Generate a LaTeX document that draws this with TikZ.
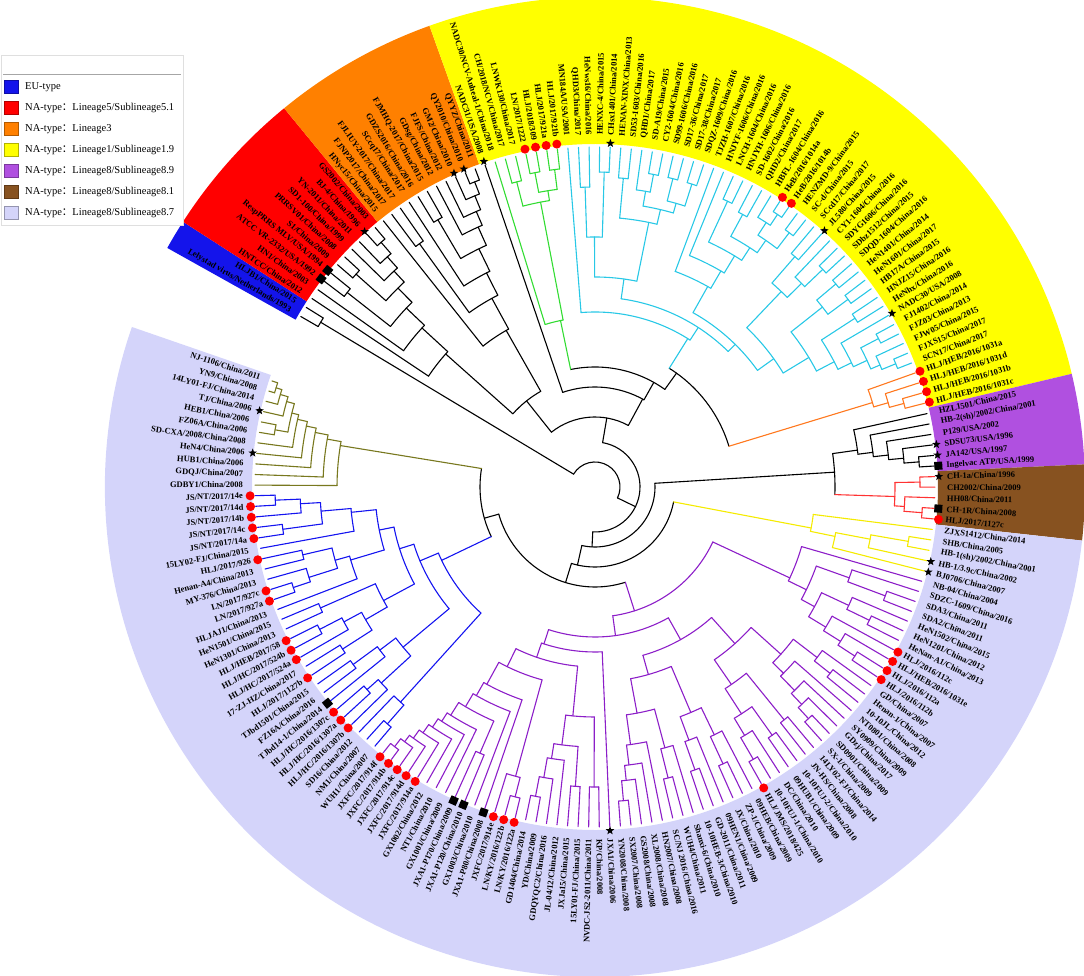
\documentclass[tikz,border=0pt]{standalone}
\usepackage{fontspec}
\setmainfont{Liberation Serif}
\newfontfamily\cjkf{Noto Sans CJK SC}
\usetikzlibrary{shapes.geometric}
\definecolor{cBlue}{RGB}{20,20,235}
\definecolor{cRed}{RGB}{255,0,0}
\definecolor{cOrange}{RGB}{255,128,0}
\definecolor{cYellow}{RGB}{255,255,0}
\definecolor{cPurple}{RGB}{176,80,224}
\definecolor{cBrown}{RGB}{135,82,32}
\definecolor{cLav}{RGB}{212,212,250}
\definecolor{lGreen}{RGB}{50,220,50}
\definecolor{lCyan}{RGB}{40,200,230}
\definecolor{lOrange}{RGB}{255,120,30}
\definecolor{lRed}{RGB}{255,50,50}
\definecolor{lYellow}{RGB}{245,235,0}
\definecolor{lPurple}{RGB}{140,30,200}
\definecolor{lBlue}{RGB}{20,20,240}
\definecolor{lOlive}{RGB}{120,120,30}
\tikzset{br/.style={line width=1.1pt,line cap=round},
 lab/.style={font=\bfseries\fontsize{8.5}{9}\selectfont,inner sep=0pt,text=black},
 dotsym/.style={circle,fill=red,inner sep=0pt,minimum size=9pt},
 starsym/.style={star,star points=5,star point ratio=2.4,fill=black,inner sep=0pt,minimum size=9pt},
 sqsym/.style={rectangle,fill=black,inner sep=0pt,minimum size=8pt},
 legtext/.style={font=\fontsize{10.5}{12}\selectfont,anchor=west,inner sep=0pt},
 legbox/.style={rectangle,inner sep=0pt,minimum width=14pt,minimum height=13pt}}
\newcommand{\nd}[6]{%
 \pgfmathsetmacro\ndA{150.8-1.785*((#1+#2)/2+0.5)}%
 \pgfmathsetmacro\ndB{150.8-1.785*((#2+1+#3)/2+0.5)}%
 \pgfmathsetmacro\ndM{150.8-1.785*((#1+#3)/2+0.5)}%
 \draw[br,#6] (\ndA:#4pt) arc[start angle=\ndA,end angle=\ndB,radius=#4pt];%
 \draw[br,#6] (\ndM:#5pt) -- (\ndM:#4pt);%
 \ifnum#1=#2\relax\draw[br,#6] (\ndA:#4pt) -- (\ndA:340pt);\fi
 \ifnum\numexpr#2+1\relax=#3\relax\draw[br,#6] (\ndB:#4pt) -- (\ndB:340pt);\fi}
\newcommand{\band}[3]{%
 \pgfmathsetmacro\bdA{150.8-1.785*#1}%
 \pgfmathsetmacro\bdB{150.8-1.785*(#2+1)}%
 \fill[#3] (\bdA:343pt) arc[start angle=\bdA,end angle=\bdB,radius=343pt] -- (\bdB:490pt) arc[start angle=\bdB,end angle=\bdA,radius=490pt] -- cycle;}
\begin{document}
\begin{tikzpicture}[x=1pt,y=1pt]
\useasboundingbox (0,0) rectangle (1084,976);
\clip (0,0) rectangle (1084,976);
\begin{scope}[shift={(595,489)}]
\band{0}{1}{cBlue}
\band{2}{11}{cRed}
\band{12}{22}{cOrange}
\band{23}{76}{cYellow}
\band{77}{82}{cPurple}
\band{83}{87}{cBrown}
\band{88}{195}{cLav}
% backbone
\nd{0}{1}{195}{25}{25}{black}
\nd{0}{0}{1}{320}{25}{black}
\nd{2}{76}{195}{45}{25}{black}
\nd{2}{22}{76}{70}{45}{black}
\nd{2}{11}{22}{110}{70}{black}
% lineage 5
\nd{2}{2}{11}{200}{110}{black}
\nd{3}{3}{11}{235}{200}{black}
\nd{4}{5}{11}{260}{235}{black}
\nd{4}{4}{5}{315}{260}{black}
\nd{6}{7}{11}{280}{260}{black}
\nd{6}{6}{7}{320}{280}{black}
\nd{8}{8}{11}{295}{280}{black}
\nd{9}{9}{11}{310}{295}{black}
\nd{10}{10}{11}{325}{310}{black}
% lineage 3
\nd{12}{12}{22}{180}{110}{black}
\nd{13}{14}{22}{215}{180}{black}
\nd{13}{13}{14}{300}{215}{black}
\nd{15}{15}{22}{240}{215}{black}
\nd{16}{17}{22}{265}{240}{black}
\nd{16}{16}{17}{310}{265}{black}
\nd{18}{18}{22}{285}{265}{black}
\nd{19}{19}{22}{300}{285}{black}
\nd{20}{20}{22}{315}{300}{black}
\nd{21}{21}{22}{328}{315}{black}
% lineage 1
\nd{23}{23}{76}{100}{70}{black}
\nd{24}{30}{76}{120}{100}{black}
\nd{24}{24}{30}{170}{120}{lGreen}
\nd{25}{26}{30}{290}{170}{lGreen}
\nd{25}{25}{26}{315}{290}{lGreen}
\nd{27}{28}{30}{300}{290}{lGreen}
\nd{27}{27}{28}{320}{300}{lGreen}
\nd{29}{29}{30}{320}{300}{lGreen}
\nd{31}{72}{76}{140}{120}{black}
\nd{73}{73}{76}{290}{140}{lOrange}
\nd{74}{74}{76}{305}{290}{lOrange}
\nd{75}{75}{76}{320}{305}{lOrange}
\nd{31}{31}{72}{175}{140}{lCyan}
\nd{32}{44}{72}{190}{175}{lCyan}
\nd{32}{35}{44}{210}{190}{lCyan}
\nd{32}{33}{35}{250}{210}{lCyan}
\nd{32}{32}{33}{300}{250}{lCyan}
\nd{34}{34}{35}{315}{250}{lCyan}
\nd{36}{37}{44}{270}{210}{lCyan}
\nd{36}{36}{37}{310}{270}{lCyan}
\nd{38}{40}{44}{285}{270}{lCyan}
\nd{38}{38}{40}{300}{285}{lCyan}
\nd{39}{39}{40}{318}{300}{lCyan}
\nd{41}{42}{44}{295}{285}{lCyan}
\nd{41}{41}{42}{318}{295}{lCyan}
\nd{43}{43}{44}{318}{295}{lCyan}
\nd{45}{55}{72}{200}{190}{lCyan}
\nd{45}{45}{55}{230}{200}{lCyan}
\nd{46}{46}{55}{250}{230}{lCyan}
\nd{47}{48}{55}{270}{250}{lCyan}
\nd{47}{47}{48}{315}{270}{lCyan}
\nd{49}{50}{55}{285}{270}{lCyan}
\nd{49}{49}{50}{310}{285}{lCyan}
\nd{51}{53}{55}{300}{285}{lCyan}
\nd{51}{51}{53}{315}{300}{lCyan}
\nd{52}{52}{53}{328}{315}{lCyan}
\nd{54}{54}{55}{320}{300}{lCyan}
\nd{56}{60}{72}{220}{200}{lCyan}
\nd{56}{57}{60}{270}{220}{lCyan}
\nd{56}{56}{57}{305}{270}{lCyan}
\nd{58}{58}{60}{290}{270}{lCyan}
\nd{59}{59}{60}{315}{290}{lCyan}
\nd{61}{64}{72}{250}{220}{lCyan}
\nd{61}{62}{64}{290}{250}{lCyan}
\nd{61}{61}{62}{315}{290}{lCyan}
\nd{63}{63}{64}{315}{290}{lCyan}
\nd{65}{66}{72}{270}{250}{lCyan}
\nd{65}{65}{66}{310}{270}{lCyan}
\nd{67}{67}{72}{285}{270}{lCyan}
\nd{68}{69}{72}{300}{285}{lCyan}
\nd{68}{68}{69}{320}{300}{lCyan}
\nd{70}{70}{72}{310}{300}{lCyan}
\nd{71}{71}{72}{325}{310}{lCyan}
% lineage 8
\nd{77}{87}{195}{60}{45}{black}
\nd{77}{82}{87}{240}{60}{black}
\nd{77}{77}{82}{265}{240}{black}
\nd{78}{78}{82}{280}{265}{black}
\nd{79}{79}{82}{295}{280}{black}
\nd{80}{80}{82}{310}{295}{black}
\nd{81}{81}{82}{325}{310}{black}
\nd{83}{84}{87}{300}{240}{lRed}
\nd{83}{83}{84}{325}{300}{lRed}
\nd{85}{85}{87}{310}{300}{lRed}
\nd{86}{86}{87}{328}{310}{lRed}
\nd{88}{92}{195}{80}{60}{black}
\nd{88}{88}{92}{220}{80}{lYellow}
\nd{89}{91}{92}{245}{220}{lYellow}
\nd{89}{90}{91}{280}{245}{lYellow}
\nd{89}{89}{90}{318}{280}{lYellow}
\nd{93}{156}{195}{100}{80}{black}
% purple clade
\nd{93}{103}{156}{130}{100}{lPurple}
\nd{93}{93}{103}{215}{130}{lPurple}
\nd{94}{96}{103}{235}{215}{lPurple}
\nd{94}{94}{96}{270}{235}{lPurple}
\nd{95}{95}{96}{310}{270}{lPurple}
\nd{97}{99}{103}{250}{235}{lPurple}
\nd{97}{97}{99}{280}{250}{lPurple}
\nd{98}{98}{99}{305}{280}{lPurple}
\nd{100}{100}{103}{270}{250}{lPurple}
\nd{101}{101}{103}{290}{270}{lPurple}
\nd{102}{102}{103}{310}{290}{lPurple}
\nd{104}{132}{156}{150}{130}{lPurple}
\nd{104}{118}{132}{175}{150}{lPurple}
\nd{104}{111}{118}{210}{175}{lPurple}
\nd{104}{106}{111}{250}{210}{lPurple}
\nd{104}{104}{106}{280}{250}{lPurple}
\nd{105}{105}{106}{300}{280}{lPurple}
\nd{107}{107}{111}{265}{250}{lPurple}
\nd{108}{108}{111}{285}{265}{lPurple}
\nd{109}{109}{111}{300}{285}{lPurple}
\nd{110}{110}{111}{315}{300}{lPurple}
\nd{112}{113}{118}{240}{210}{lPurple}
\nd{112}{112}{113}{300}{240}{lPurple}
\nd{114}{115}{118}{270}{240}{lPurple}
\nd{114}{114}{115}{305}{270}{lPurple}
\nd{116}{116}{118}{290}{270}{lPurple}
\nd{117}{117}{118}{315}{290}{lPurple}
\nd{119}{124}{132}{195}{175}{lPurple}
\nd{119}{121}{124}{245}{195}{lPurple}
\nd{119}{119}{121}{275}{245}{lPurple}
\nd{120}{120}{121}{305}{275}{lPurple}
\nd{122}{122}{124}{270}{245}{lPurple}
\nd{123}{123}{124}{300}{270}{lPurple}
\nd{125}{127}{132}{230}{195}{lPurple}
\nd{125}{125}{127}{270}{230}{lPurple}
\nd{126}{126}{127}{300}{270}{lPurple}
\nd{128}{128}{132}{260}{230}{lPurple}
\nd{129}{129}{132}{280}{260}{lPurple}
\nd{130}{130}{132}{295}{280}{lPurple}
\nd{131}{131}{132}{315}{295}{lPurple}
\nd{133}{133}{156}{165}{150}{lPurple}
\nd{134}{141}{156}{180}{165}{lPurple}
\nd{134}{135}{141}{230}{180}{lPurple}
\nd{134}{134}{135}{300}{230}{lPurple}
\nd{136}{137}{141}{260}{230}{lPurple}
\nd{136}{136}{137}{300}{260}{lPurple}
\nd{138}{138}{141}{275}{260}{lPurple}
\nd{139}{139}{141}{295}{275}{lPurple}
\nd{140}{140}{141}{315}{295}{lPurple}
\nd{142}{144}{156}{200}{180}{lPurple}
\nd{142}{143}{144}{300}{200}{lPurple}
\nd{142}{142}{143}{320}{300}{lPurple}
\nd{145}{145}{156}{225}{200}{lPurple}
\nd{146}{146}{156}{240}{225}{lPurple}
\nd{147}{148}{156}{255}{240}{lPurple}
\nd{147}{147}{148}{290}{255}{lPurple}
\nd{149}{149}{156}{270}{255}{lPurple}
\nd{150}{150}{156}{280}{270}{lPurple}
\nd{151}{151}{156}{290}{280}{lPurple}
\nd{152}{152}{156}{300}{290}{lPurple}
\nd{153}{153}{156}{310}{300}{lPurple}
\nd{154}{154}{156}{318}{310}{lPurple}
\nd{155}{155}{156}{328}{318}{lPurple}
% blue + olive
\nd{157}{184}{195}{115}{100}{black}
\nd{157}{159}{184}{170}{115}{lBlue}
\nd{157}{158}{159}{290}{170}{lBlue}
\nd{157}{157}{158}{315}{290}{lBlue}
\nd{160}{165}{184}{190}{170}{lBlue}
\nd{160}{162}{165}{250}{190}{lBlue}
\nd{160}{160}{162}{290}{250}{lBlue}
\nd{161}{161}{162}{305}{290}{lBlue}
\nd{163}{163}{165}{270}{250}{lBlue}
\nd{164}{164}{165}{300}{270}{lBlue}
\nd{166}{172}{184}{205}{190}{lBlue}
\nd{166}{170}{172}{240}{205}{lBlue}
\nd{166}{167}{170}{265}{240}{lBlue}
\nd{166}{166}{167}{300}{265}{lBlue}
\nd{168}{168}{170}{285}{265}{lBlue}
\nd{169}{169}{170}{310}{285}{lBlue}
\nd{171}{171}{172}{300}{240}{lBlue}
\nd{173}{178}{184}{220}{205}{lBlue}
\nd{173}{173}{178}{255}{220}{lBlue}
\nd{174}{176}{178}{270}{255}{lBlue}
\nd{174}{175}{176}{300}{270}{lBlue}
\nd{174}{174}{175}{318}{300}{lBlue}
\nd{177}{177}{178}{300}{270}{lBlue}
\nd{179}{179}{184}{245}{220}{lBlue}
\nd{180}{181}{184}{275}{245}{lBlue}
\nd{180}{180}{181}{315}{275}{lBlue}
\nd{182}{182}{184}{295}{275}{lBlue}
\nd{183}{183}{184}{320}{295}{lBlue}
\nd{185}{185}{195}{258}{115}{lOlive}
\nd{186}{186}{195}{272}{258}{lOlive}
\nd{187}{187}{195}{285}{272}{lOlive}
\nd{188}{188}{195}{295}{285}{lOlive}
\nd{189}{189}{195}{305}{295}{lOlive}
\nd{190}{191}{195}{312}{305}{lOlive}
\nd{190}{190}{191}{325}{312}{lOlive}
\nd{192}{192}{195}{320}{312}{lOlive}
\nd{193}{193}{195}{328}{320}{lOlive}
\nd{194}{194}{195}{334}{328}{lOlive}
% symbols
\foreach \k in {27,28,29,30,52,53,73,74,75,76,87,100,101,102,103,118,142,143,144,152,153,154,155,156,160,161,162,166,168,169,170,174,175,178,180,181,182,183,184}{%
 \pgfmathsetmacro\lt{150.8-1.785*(\k+0.5)}%
 \node[dotsym] (D\k) at (\lt:345pt) {};}
\foreach \k in {10,20,21,23,35,57,67,80,81,83,91,92,133,188,192}{%
 \pgfmathsetmacro\lt{150.8-1.785*(\k+0.5)}%
 \node[starsym] (S\k) at (\lt:344pt) {};}
\foreach \k in {4,5,82,86,145,147,148,163}{%
 \pgfmathsetmacro\lt{150.8-1.785*(\k+0.5)}%
 \node[sqsym,rotate=\lt] (Q\k) at (\lt:344pt) {};}
% labels
\foreach \lab [count=\k from 0] in {Lelystad virus/Netherlands/1993,HLJB1/China/2015,HNTCC/China/2012,HN1/China/2003,ATCC VR-2332/USA/1992,RespPRRS MLV/USA/1994,S1/China/2009,PRRSV01/China/2008,SD1-100/China/1999,YN-2011/China/2011,BJ-4/China/1996,GS2002/China/2003,HNyc15/China/2015,FJNP2017/China/2017,FJLIUY-2017/China/2017,SCcq17/China/2017,GDZS2016/China/2016,FJMHQ-2017/China/2015,GDsg/China/2012,FJFS/China/2012,GM2/China/2010,QY2010/China/2010,QYYZ/China/2011,NADC31/USA/2008,NADC30/NCV-Anheal-1/China/2018,CH/2018/NCV/China/2017,LNWK130/China/2017,LN/2017/1222,HLJ/2018/309,HLJ/2017/921a,HLJ/2017/921b,MN184A/USA/2001,QHD3/China/2017,HeNws16/China/2016,HENXC-4/China/2015,CHsx1401/China/2014,HENAN-XINX/China/2013,SD53-1603/China/2016,QHD1/China/2017,SD-A19/China/2015,CY2-1604/China/2016,SD99-1606/China/2016,SD17-36/China/2017,SD17-38/China/2017,SDQZ-1609/China/2016,TJZH-1607/China/2016,HNJYF-1606/China/2016,LNCH-1604/China/2016,HNJYH-1606/China/2016,SD-1602/China/2016,QHD2/China/2017,HBFL-1604/China/2016,HeB/2016/1014a,HeB/2016/1014b,HENZMD-9/China/2015,SC-d/China/2015,SCcd17/China/2017,JL580/China/2015,CY1-1604/China/2016,SDYG1606/China/2016,SDbz1512/China/2015,SDQD-1604/China/2016,HeN1401/China/2014,HeN1601/China/2017,HB17A/China/2015,HNJZ15/China/2016,HeNhx/China/2016,NADC30/USA/2008,FJ1402/China/2014,FJZ03/China/2013,FJW05/China/2015,FJXS15/China/2017,SCN17/China/2017,HLJ/HEB/2016/1031a,HLJ/HEB/2016/1031d,HLJ/HEB/2016/1031b,HLJ/HEB/2016/1031c,HZL1501/China/2015,HB-2(sh)/2002/China/2001,P129/USA/2002,SDSU73/USA/1996,JA142/USA/1997,Ingelvac ATP/USA/1999,CH-1a/China/1996,CH2002/China/2009,HH08/China/2011,CH-1R/China/2008,HLJ/2017/1127c,ZJXS1412/China/2014,SHB/China/2005,HB-1(sh)/2002/China/2001,HB-1/3.9c/China/2002,BJ0706/China/2007,NB-04/China/2004,SDZC-1609/China/2016,SDA3/China/2011,SDA2/China/2011,HeN1502/China/2015,HeN1201/China/2012,HeNan-A1/China/2013,HLJ/2016/112c,HLJ/HEB/2016/1031e,HLJ/2016/112a,HLJ/2016/112b,GD/China/2007,Henan-1/China/2007,10-10JL/China/2012,NT0801/China/2008,SY0909/China/2009,GDzj/China/2017,SD0901/China/2009,SX-1/China/2009,14LY02-FJ/China/2014,JN-HS/China/2008,10-10FUJ-2/China/2010,09HUB1/China/2009,DC/China/2010,10-10FUJ-1/China/2010,HLJ/JMS/2018/425,09HEB/China/2009,ZP-1/China/2009,JX/China/2010,09HEN1/China/2009,GD-2011/China/2011,10-10HEB-3/China/2010,Shanxi-6/China/2010,WUH4/China/2011,SC/NJ 2016/China/2016,HN2007/China/2008,XL2008/China/2008,GS2008/China/2008,SX2007/China/2008,YN2008/China/2008,JXA1/China/2006,KP/China/2008,NVDC-JS2-2011/China/2011,15LY01-FJ/China/2015,JXJa15/China/2015,JL-04/12/China/2012,GDQYQC2/China/2016,YD/China/2009,GD1404/China/2014,LN/KY/2016/122a,LN/KY/2016/122b,JXFC/2017/914e,JXA1-P80/China/2008,GX1003/China/2010,JXA1-P120/China/2010,JXA1-P170/China/2009,GX1001/China/2009,NT1/China/2010,GX1002/China/2012,JXFC/2017/914a,JXFC/2017/914d,JXFC/2017/914c,JXFC/2017/914b,JXFC/2017/914f,WUH1/China/2007,NM1/China/2007,SD16/China/2012,HLJ/HC/2016/1307b,HLJ/HC/2016/1307a,HLJ/HC/2016/1307c,TJbd14-1/China/2014,FZ16A/China/2016,TJbd1501/China/2015,HLJ/2017/1127b,17-ZJ-HZ/China/2017,HLJ/HC/2017/524a,HLJ/HC/2017/524b,HLJ/HEB/2017/58,HeN1301/China/2013,HeN1501/China/2015,HLJAJ1/China/2013,LN/2017/927a,LN/2017/927c,MY-376/China/2013,Henan-A4/China/2013,HLJ/2017/926,15LY02-FJ/China/2015,JS/NT/2017/14a,JS/NT/2017/14c,JS/NT/2017/14b,JS/NT/2017/14d,JS/NT/2017/14e,GDBY1/China/2008,GDQJ/China/2007,HUB1/China/2006,HeN4/China/2006,SD-CXA/2008/China/2008,FZ06A/China/2006,HEB1/China/2006,TJ/China/2006,14LY01-FJ/China/2014,YN9/China/2008,NJ-1106/China/2011}{%
 \pgfmathsetmacro\lt{150.8-1.785*(\k+0.5)}%
 \pgfmathtruncatemacro\rs{and(\lt>-90,\lt<90)}%
 \ifnum\rs=1
  \node[lab,anchor=west,rotate=\lt] (L\k) at (\lt:352pt) {\lab};%
 \else
  \pgfmathsetmacro\lr{\lt+180}%
  \node[lab,anchor=east,rotate=\lr] (L\k) at (\lt:352pt) {\lab};%
 \fi}
\end{scope}
% legend
\draw[gray!25,fill=white] (1,751) rectangle (183,921);
\draw[gray!70,line width=0.8pt] (3,902) -- (181,902);
\node[legbox,fill=cBlue,draw=cBlue!70!black] (K1) at (11,889) {};
\node[legbox,fill=cRed,draw=cRed!70!black] (K2) at (11,868) {};
\node[legbox,fill=cOrange,draw=cOrange!70!black] (K3) at (11,847) {};
\node[legbox,fill=cYellow,draw=cYellow!70!black] (K4) at (11,826) {};
\node[legbox,fill=cPurple,draw=cPurple!70!black] (K5) at (11,805) {};
\node[legbox,fill=cBrown,draw=cBrown!70!black] (K6) at (11,784) {};
\node[legbox,fill=cLav,draw=cLav!70!black] (K7) at (11,763) {};
\node[legtext] (T1) at (25,889) {EU-type};
\node[legtext] (T2) at (25,868) {NA-type{\cjkf ：}Lineage5/Sublineage5.1};
\node[legtext] (T3) at (25,847) {NA-type{\cjkf ：}Lineage3};
\node[legtext] (T4) at (25,826) {NA-type{\cjkf ：}Lineage1/Sublineage1.9};
\node[legtext] (T5) at (25,805) {NA-type{\cjkf ：}Lineage8/Sublineage8.9};
\node[legtext] (T6) at (25,784) {NA-type{\cjkf ：}Lineage8/Sublineage8.1};
\node[legtext] (T7) at (25,763) {NA-type{\cjkf ：}Lineage8/Sublineage8.7};
\end{tikzpicture}
\end{document}
